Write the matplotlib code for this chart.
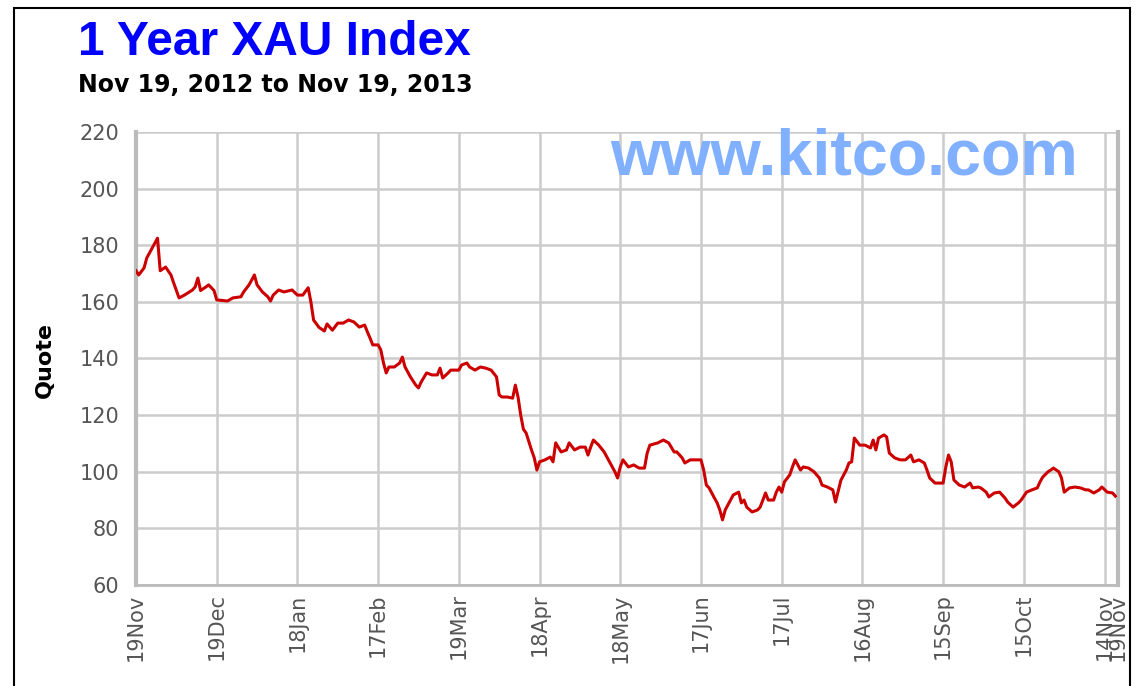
import datetime as dt
import matplotlib.pyplot as plt
from matplotlib.patches import Rectangle

start = dt.date(2012, 11, 19)

# days after Nov 19, 2012 and the quote
day = [0, 1, 3, 4, 6, 8, 9, 11, 13, 14, 16, 18, 21, 22, 23, 24, 26, 27, 29, 30,
       34, 36, 39, 40, 42, 43, 44, 45, 47, 49, 50, 51, 53, 55, 58, 60, 62, 64, 65, 66,
       68, 70, 71, 73, 75, 77, 79, 81, 83, 85, 86, 87, 88, 90, 91, 92, 93, 94, 96, 98,
       99, 100, 102, 104, 105, 106, 108, 110, 112, 113, 114, 116, 117, 120, 121, 123, 124, 126, 128, 130,
       132, 134, 135, 136, 138, 140, 141, 142, 143, 144, 145, 147, 148, 149, 150, 152, 154, 155, 156, 158,
       160, 161, 163, 165, 167, 168, 169, 170, 172, 174, 176, 178, 179, 180, 181, 183, 185, 187, 189, 190,
       191, 194, 196, 198, 200, 201, 203, 204, 206, 208, 210, 211, 212, 213, 214, 215, 216, 217, 218, 219,
       221, 222, 224, 225, 226, 227, 229, 231, 232, 234, 235, 237, 238, 239, 240, 241, 243, 244, 245, 247,
       248, 250, 252, 254, 255, 257, 259, 260, 262, 264, 265, 266, 267, 269, 271, 273, 274, 275, 276, 278,
       279, 280, 282, 284, 286, 288, 289, 291, 293, 294, 295, 297, 298, 300, 301, 302, 303, 304, 306, 308,
       310, 311, 313, 314, 316, 317, 319, 321, 323, 324, 326, 328, 329, 331, 333, 335, 336, 337, 339, 340,
       341, 343, 344, 345, 347, 349, 351, 353, 354, 356, 358, 359, 361, 363, 364]
quote = [171, 169.5, 172, 175.5, 179, 182.5, 171, 172.3, 169.5, 166.7, 161.4, 162.4, 164.2, 165.3, 168.4, 164, 165.3, 166, 164, 160.7,
         160.3, 161.4, 161.8, 163.5, 166, 167.7, 169.5, 166, 163.5, 161.8, 160.3, 162.4, 164.2, 163.5, 164.2, 162.4, 162.4, 165, 160, 153.6,
         151, 149.7, 152.2, 150, 152.5, 152.5, 153.6, 152.9, 151.1, 151.8, 149.4, 147.2, 144.8, 144.8, 143, 138.4, 134.9, 137, 137, 138.4,
         140.5, 137, 133.5, 130.6, 129.6, 131.7, 134.9, 134.2, 134.2, 136.6, 133.1, 134.9, 135.9, 135.9, 137.7, 138.4, 137, 135.9, 137, 136.6,
         135.9, 133.5, 127.1, 126.4, 126.4, 126, 130.6, 126.4, 120, 115, 113.7, 107.7, 105, 100.6, 103.5, 104.2, 105.2, 103.5, 110.2, 107,
         107.7, 110.2, 107.7, 108.7, 108.7, 105.9, 108.7, 111.2, 109.4, 107, 103.5, 100, 97.8, 101.7, 104.2, 101.7, 102.4, 101.3, 101.3, 106.6,
         109.4, 110.2, 111.2, 110.2, 107, 107, 104.9, 103.1, 104.2, 104.2, 104.2, 100.6, 95.3, 94.3, 92.5, 90.7, 89, 86.5, 83, 86.5,
         90, 91.8, 92.8, 89, 90, 87.5, 85.8, 86.5, 87.5, 92.5, 90, 90, 92.8, 94.6, 92.8, 96.4, 98.9, 101.7, 104.2, 100.6,
         101.7, 101.3, 100, 97.8, 95.3, 94.6, 93.6, 89.3, 97, 100.6, 103.1, 103.5, 111.9, 109.4, 109.4, 108.4, 111.2, 107.7, 111.9, 113,
         112.3, 106.6, 104.9, 104.2, 104.2, 105.9, 103.5, 104.2, 103.1, 100.6, 97.8, 96, 96, 96, 101.7, 105.9, 103.5, 97.1, 95.3, 94.6,
         96, 94.3, 94.6, 94.3, 92.8, 91.1, 92.5, 92.8, 90.7, 89.3, 87.5, 89, 90, 92.8, 93.6, 94.3, 96.4, 98.1, 100, 100.6,
         101.3, 100, 97.8, 92.8, 94.3, 94.6, 94.3, 93.6, 93.6, 92.5, 93.6, 94.6, 92.8, 92.5, 91.4]

tick_days = [0, 30, 60, 90, 120, 150, 180, 210, 240, 270, 300, 330, 360, 365]
tick_labels = ['19Nov', '19Dec', '18Jan', '17Feb', '19Mar', '18Apr', '18May',
               '17Jun', '17Jul', '16Aug', '15Sep', '15Oct', '14Nov', '19Nov']
y_ticks = [60, 80, 100, 120, 140, 160, 180, 200, 220]

dates = [start + dt.timedelta(days=d) for d in day]
tick_dates = [start + dt.timedelta(days=d) for d in tick_days]

fig = plt.figure(figsize=(11.36, 6.86), dpi=100)
ax = fig.add_axes([136 / 1136, 1 - 585 / 686, (1118 - 136) / 1136, (585 - 132) / 686])

ax.plot(dates, quote, color='#cc0000', lw=2.2, zorder=3)

ax.set_xlim(start, start + dt.timedelta(days=365))
ax.set_ylim(60, 220)
ax.set_yticks(y_ticks)
ax.set_xticks(tick_dates)
ax.set_xticklabels(tick_labels, rotation=90)
ax.tick_params(length=0, labelsize=15, labelcolor='#555555')
ax.tick_params(axis='y', pad=12)
ax.tick_params(axis='x', pad=6)
ax.grid(True, color='#cccccc', lw=1.8)
ax.set_axisbelow(True)

for side in ['left', 'right']:
    ax.spines[side].set_color('#bbbbbb')
    ax.spines[side].set_linewidth(3)
ax.spines['bottom'].set_color('#bbbbbb')
ax.spines['bottom'].set_linewidth(2)
ax.spines['top'].set_visible(False)

fig.text(78 / 1136, 1 - 55 / 686, '1 Year XAU Index', color='#0000ff',
         fontsize=34.5, fontweight='bold', family='Liberation Sans', va='baseline')
fig.text(78 / 1136, 1 - 92 / 686, 'Nov 19, 2012 to Nov 19, 2013', color='black',
         fontsize=17, fontweight='bold', family='DejaVu Sans', va='baseline')
fig.text(610 / 1136, 1 - 175 / 686, 'www.kitco.com', color='#80b0ff',
         fontsize=46.5, fontweight='bold', family='Liberation Sans', va='baseline')
fig.text(45 / 1136, 1 - 360 / 686, 'Quote', rotation=90, fontsize=16,
         fontweight='bold', ha='center', va='center')

# outer black frame
fig.patches.append(Rectangle((14 / 1136, -0.01), (1130 - 14) / 1136, 1.01 - 8 / 686,
                             transform=fig.transFigure, fill=False,
                             edgecolor='black', lw=1.5))

fig.savefig('out.png', dpi=100)
